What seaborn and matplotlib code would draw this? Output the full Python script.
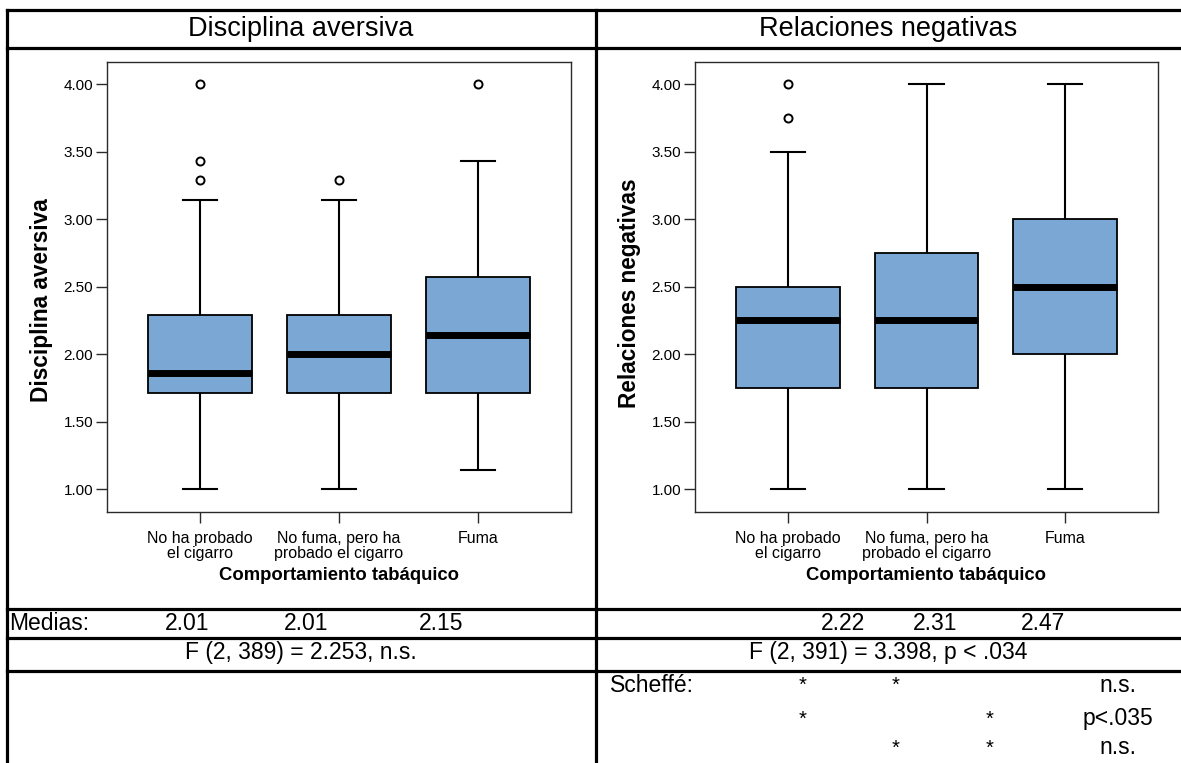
import matplotlib
matplotlib.use("Agg")
import matplotlib.pyplot as plt
from matplotlib.lines import Line2D
import seaborn as sns
import pandas as pd

# ---------------- data ----------------
categorias = ["No ha probado\nel cigarro", "No fuma, pero ha\nprobado el cigarro", "Fuma"]

# Disciplina aversiva (item means, steps of 1/7)
da_no_probado = [1.000, 1.429, 1.571, 1.714, 1.714, 1.714, 1.857, 1.857, 1.857,
                 2.000, 2.143, 2.286, 2.286, 3.143, 3.286, 3.429, 4.000]
da_no_fuma = [1.000, 1.571, 1.714, 1.857, 2.000, 2.143, 2.286, 3.143, 3.286]
da_fuma = [1.143, 1.429, 1.714, 2.000, 2.143, 2.286, 2.571, 3.429, 4.000]

# Relaciones negativas (steps of 1/4)
rn_no_probado = [1.00, 1.50, 1.75, 1.75, 2.00, 2.25, 2.25, 2.25, 2.50, 2.50, 3.50, 3.75, 4.00]
rn_no_fuma = [1.00, 1.75, 2.25, 2.75, 4.00]
rn_fuma = [1.00, 2.00, 2.50, 3.00, 4.00]

medias_da = ["2.01", "2.01", "2.15"]
medias_rn = ["2.22", "2.31", "2.47"]
f_da = "F (2, 389) = 2.253, n.s."
f_rn = "F (2, 391) = 3.398, p < .034"
scheffe_marks = [["*", "*", ""], ["*", "", "*"], ["", "*", "*"]]
scheffe_res = ["n.s.", "p<.035", "n.s."]
yticks = [1.0, 1.5, 2.0, 2.5, 3.0, 3.5, 4.0]


def long_df(groups):
    rows = []
    for cat, vals in zip(categorias, groups):
        for v in vals:
            rows.append({"grupo": cat, "valor": v})
    return pd.DataFrame(rows)


df_da = long_df([da_no_probado, da_no_fuma, da_fuma])
df_rn = long_df([rn_no_probado, rn_no_fuma, rn_fuma])

# ---------------- style ----------------
plt.rcParams["font.family"] = ["Liberation Sans", "DejaVu Sans"]

W, H = 1181, 763
fig = plt.figure(figsize=(W / 100, H / 100), dpi=100)
fig.patch.set_facecolor("white")


def fx(px):
    return px / W


def fy(py):
    return 1 - py / H


box_color = "#7BA7D5"
spine_color = "#2a2a2a"


def draw_panel(ax, df, ylabel, label_y):
    sns.boxplot(
        data=df, x="grupo", y="valor", order=categorias, ax=ax,
        color=box_color, saturation=1, width=0.75, linecolor="black",
        linewidth=1.3, whis=1.5,
        medianprops=dict(color="black", linewidth=5.0, solid_capstyle="butt"),
        whiskerprops=dict(color="black", linewidth=1.5),
        capprops=dict(color="black", linewidth=1.5),
        flierprops=dict(marker="o", markersize=5.8, markerfacecolor="white",
                        markeredgecolor="black", markeredgewidth=1.4),
        capwidths=0.25,
    )
    ax.set_xlim(-0.67, 2.67)
    ax.set_ylim(0.83, 4.163)
    ax.set_yticks(yticks)
    ax.set_yticklabels([f"{t:.2f}" for t in yticks], fontsize=11)
    ax.set_xticks(range(len(categorias)))
    ax.set_xticklabels(categorias, fontsize=11.5, linespacing=1.0)
    ax.tick_params(axis="both", length=8, width=1, color=spine_color, pad=2)
    ax.tick_params(axis="x", pad=6)
    for s in ax.spines.values():
        s.set_visible(True)
        s.set_color(spine_color)
        s.set_linewidth(1.0)
    ax.set_xlabel("Comportamiento tabáquico", fontsize=13.3, fontweight="bold", labelpad=4)
    ax.set_ylabel(ylabel, fontsize=16.3, fontweight="bold")
    ax.yaxis.set_label_coords(-0.117, label_y)
    ax.grid(False)
    ax.set_facecolor("white")


ax1 = fig.add_axes([fx(107), fy(512), fx(571) - fx(107), fy(62) - fy(512)])
ax2 = fig.add_axes([fx(695), fy(512), fx(1158) - fx(695), fy(62) - fy(512)])
draw_panel(ax1, df_da, "Disciplina aversiva", 0.47)
draw_panel(ax2, df_rn, "Relaciones negativas", 0.485)

# ---------------- table frame ----------------
lw = 2.3
for py in [10, 48, 609, 638, 671]:
    fig.add_artist(Line2D([fx(7), fx(W)], [fy(py), fy(py)], color="black", lw=lw,
                          transform=fig.transFigure))
for px in [7, 596]:
    fig.add_artist(Line2D([fx(px), fx(px)], [fy(10), fy(H)], color="black", lw=lw,
                          transform=fig.transFigure))

# titles
fig.text(fx(301), fy(29), "Disciplina aversiva", fontsize=19.5, ha="center", va="center")
fig.text(fx(888), fy(29), "Relaciones negativas", fontsize=19.5, ha="center", va="center")

# medias row
ts = 16.5
fig.text(fx(9), fy(623), "Medias:", fontsize=ts, ha="left", va="center")
for x, m in zip([187, 306, 441], medias_da):
    fig.text(fx(x), fy(623), m, fontsize=ts, ha="center", va="center")
for x, m in zip([843, 935, 1043], medias_rn):
    fig.text(fx(x), fy(623), m, fontsize=ts, ha="center", va="center")

# F row
fig.text(fx(301), fy(652), f_da, fontsize=ts, ha="center", va="center")
fig.text(fx(888), fy(652), f_rn, fontsize=ts, ha="center", va="center")

# Scheffé rows
fig.text(fx(610), fy(685), "Scheffé:", fontsize=ts, ha="left", va="center")
row_y = [685, 719, 748]
col_x = [803, 896, 990]
for ry, marks, res in zip(row_y, scheffe_marks, scheffe_res):
    for cx, mk in zip(col_x, marks):
        if mk:
            fig.text(fx(cx), fy(ry), mk, fontsize=ts - 2, ha="center", va="center")
    fig.text(fx(1118), fy(ry), res, fontsize=ts, ha="center", va="center")

fig.savefig("out.png", dpi=100)
